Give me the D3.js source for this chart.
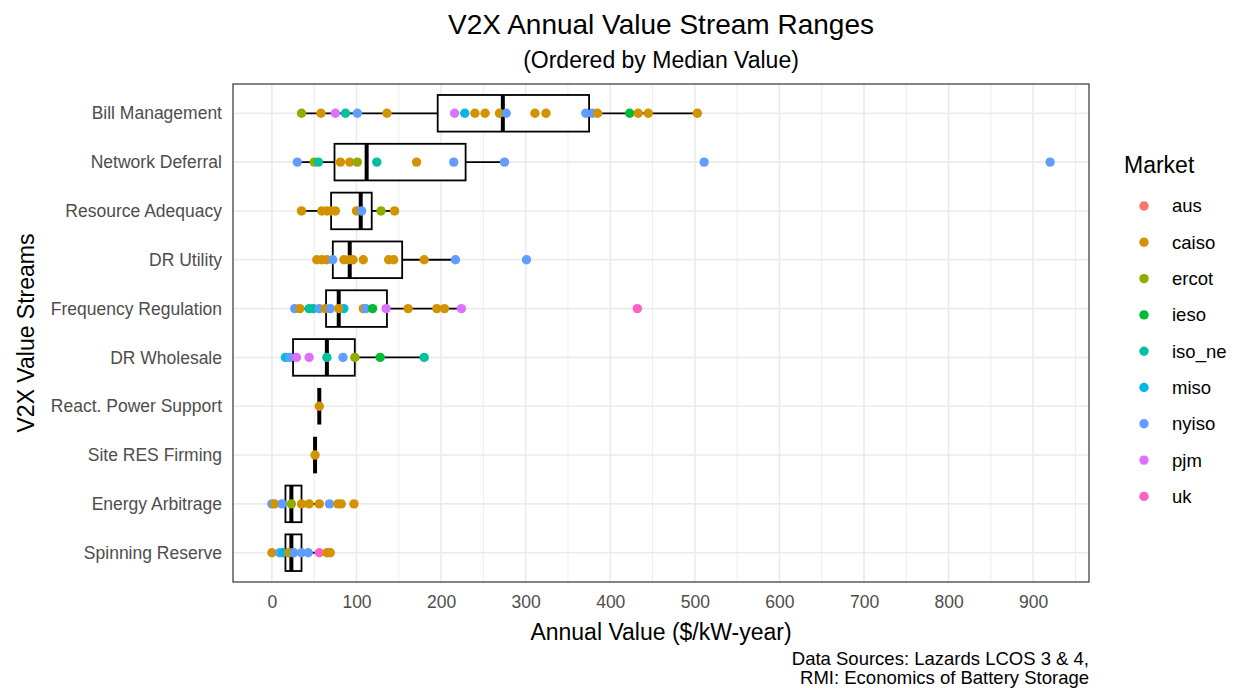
<!DOCTYPE html>
<html>
<head>
<meta charset="utf-8">
<script src="https://cdn.jsdelivr.net/npm/d3@7"></script>
<style>
  html, body { margin: 0; padding: 0; background: #ffffff; }
  svg { display: block; font-family: "Liberation Sans", Arial, Helvetica, sans-serif; }
</style>
</head>
<body>
<svg id="chart" width="1234" height="688"></svg>
<script>
// ---------- Data ----------
const streams = ["Bill Management", "Network Deferral", "Resource Adequacy", "DR Utility",
  "Frequency Regulation", "DR Wholesale", "React. Power Support", "Site RES Firming",
  "Energy Arbitrage", "Spinning Reserve"];

const markets = ["aus", "caiso", "ercot", "ieso", "iso_ne", "miso", "nyiso", "pjm", "uk"];
const marketColors = ["#F8766D", "#D39200", "#93AA00", "#00BA38", "#00C19F", "#00B9E3", "#619CFF", "#DB72FB", "#FF61C3"];

const xTicks = [0, 100, 200, 300, 400, 500, 600, 700, 800, 900];

// points per stream: [market, value]
const billManagement = [["ercot", 35], ["caiso", 58], ["pjm", 75], ["iso_ne", 87], ["nyiso", 101], ["caiso", 136],
  ["pjm", 216], ["miso", 228], ["caiso", 240], ["caiso", 252], ["caiso", 269], ["nyiso", 277], ["caiso", 311],
  ["caiso", 324], ["nyiso", 371], ["nyiso", 379], ["caiso", 385], ["ieso", 423], ["caiso", 433], ["caiso", 445], ["caiso", 503]];
const networkDeferral = [["nyiso", 30], ["ercot", 50], ["iso_ne", 55], ["caiso", 81], ["caiso", 92], ["ercot", 101],
  ["iso_ne", 124], ["caiso", 171], ["nyiso", 215], ["nyiso", 275], ["nyiso", 511], ["nyiso", 920]];
const resourceAdequacy = [["caiso", 35], ["caiso", 59], ["caiso", 65], ["caiso", 70], ["caiso", 75], ["caiso", 100],
  ["nyiso", 106], ["ercot", 129], ["caiso", 145]];
const drUtility = [["caiso", 53], ["caiso", 59], ["caiso", 65], ["caiso", 85], ["caiso", 91], ["caiso", 96], ["nyiso", 72],
  ["caiso", 108], ["caiso", 138], ["caiso", 144], ["caiso", 180], ["nyiso", 217], ["nyiso", 301]];
const frequencyRegulation = [["nyiso", 27], ["caiso", 33], ["iso_ne", 44], ["iso_ne", 49], ["nyiso", 56], ["caiso", 63],
  ["nyiso", 69], ["miso", 85], ["caiso", 79], ["caiso", 108], ["nyiso", 111], ["ieso", 119], ["pjm", 135], ["caiso", 161],
  ["caiso", 195], ["caiso", 204], ["pjm", 224], ["uk", 432]];
const drWholesale = [["miso", 16], ["nyiso", 21], ["pjm", 29], ["pjm", 44], ["iso_ne", 65], ["nyiso", 84], ["ercot", 98],
  ["ieso", 128], ["iso_ne", 180]];
const reactPowerSupport = [["caiso", 56]];
const siteResFirming = [["caiso", 51]];
const energyArbitrage = [["nyiso", 0], ["caiso", 3], ["nyiso", 12], ["ercot", 23], ["caiso", 35], ["caiso", 44],
  ["caiso", 56], ["nyiso", 68], ["caiso", 78], ["caiso", 82], ["caiso", 97]];
const spinningReserve = [["caiso", 0], ["nyiso", 9], ["miso", 13], ["caiso", 20], ["ercot", 25], ["nyiso", 26],
  ["nyiso", 35], ["nyiso", 43], ["uk", 56], ["caiso", 65], ["caiso", 69]];

// box statistics per stream (same order as streams)
const boxLow    = [35, 30, 35, 53, 27, 16, 56, 51, 0, 0];
const boxQ1     = [196, 74, 70, 72, 64, 25, 56, 51, 16, 16];
const boxMedian = [273, 112, 105, 92, 79, 65, 56, 51, 23, 23];
const boxQ3     = [375, 229, 118, 154, 136, 98, 56, 51, 35, 35];
const boxHigh   = [503, 275, 145, 217, 224, 180, 56, 51, 56, 56];

const streamPoints = [billManagement, networkDeferral, resourceAdequacy, drUtility, frequencyRegulation,
  drWholesale, reactPowerSupport, siteResFirming, energyArbitrage, spinningReserve];

// ---------- Layout ----------
const svg = d3.select("#chart");
const panel = { left: 233, right: 1089, top: 84, bottom: 582 };
const FONT = "'Liberation Sans', Arial, sans-serif";

const points = [];
streamPoints.forEach((arr, i) => arr.forEach(([m, v]) => points.push({ stream: streams[i], market: m, value: v })));

const vmin = d3.min(points, d => d.value), vmax = d3.max(points, d => d.value);
const pad = (vmax - vmin) * 0.05;
const x = d3.scaleLinear().domain([vmin - pad, vmax + pad]).range([panel.left, panel.right]);
const y = d3.scalePoint().domain(streams).range([panel.top, panel.bottom]).padding(0.6);
const color = d3.scaleOrdinal().domain(markets).range(marketColors);

// grid
const grid = svg.append("g");
const minorTicks = d3.range(-50, 1000, 100).filter(v => v > x.domain()[0] && v < x.domain()[1]);
grid.selectAll("line.minor").data(minorTicks).join("line")
  .attr("x1", d => x(d)).attr("x2", d => x(d))
  .attr("y1", panel.top).attr("y2", panel.bottom)
  .attr("stroke", "#EBEBEB").attr("stroke-width", 0.9);
grid.selectAll("line.majorx").data(xTicks).join("line")
  .attr("x1", d => x(d)).attr("x2", d => x(d))
  .attr("y1", panel.top).attr("y2", panel.bottom)
  .attr("stroke", "#EBEBEB").attr("stroke-width", 1.6);
grid.selectAll("line.majory").data(streams).join("line")
  .attr("x1", panel.left).attr("x2", panel.right)
  .attr("y1", d => y(d)).attr("y2", d => y(d))
  .attr("stroke", "#EBEBEB").attr("stroke-width", 1.6);

// boxplots
const boxH = y.step() * 0.75;
const boxes = svg.append("g");
streams.forEach((s, i) => {
  const cy = y(s);
  const g = boxes.append("g");
  g.append("line").attr("x1", x(boxLow[i])).attr("x2", x(boxQ1[i])).attr("y1", cy).attr("y2", cy)
    .attr("stroke", "#000").attr("stroke-width", 1.8);
  g.append("line").attr("x1", x(boxQ3[i])).attr("x2", x(boxHigh[i])).attr("y1", cy).attr("y2", cy)
    .attr("stroke", "#000").attr("stroke-width", 1.8);
  g.append("rect").attr("x", x(boxQ1[i])).attr("width", x(boxQ3[i]) - x(boxQ1[i]))
    .attr("y", cy - boxH / 2).attr("height", boxH)
    .attr("fill", "#fff").attr("stroke", "#000").attr("stroke-width", 1.8);
  g.append("line").attr("x1", x(boxMedian[i])).attr("x2", x(boxMedian[i]))
    .attr("y1", cy - boxH / 2).attr("y2", cy + boxH / 2)
    .attr("stroke", "#000").attr("stroke-width", 4);
});

// points
svg.append("g").selectAll("circle").data(points).join("circle")
  .attr("cx", d => x(d.value)).attr("cy", d => y(d.stream)).attr("r", 4.7)
  .attr("fill", d => color(d.market));

// panel border
svg.append("rect").attr("x", panel.left).attr("y", panel.top)
  .attr("width", panel.right - panel.left).attr("height", panel.bottom - panel.top)
  .attr("fill", "none").attr("stroke", "#333333").attr("stroke-width", 1.2);

// axes
const xAxis = svg.append("g").attr("transform", `translate(0,${panel.bottom})`)
  .call(d3.axisBottom(x).tickValues(xTicks).tickSize(0).tickPadding(14));
xAxis.select(".domain").remove();
xAxis.selectAll("text").attr("fill", "#4D4D4D").style("font-size", "17.5px").style("font-family", FONT);

const yAxis = svg.append("g").attr("transform", `translate(${panel.left},0)`)
  .call(d3.axisLeft(y).tickSize(0).tickPadding(11));
yAxis.select(".domain").remove();
yAxis.selectAll("text").attr("fill", "#4D4D4D").style("font-size", "17.5px").style("font-family", FONT);

// titles
const cx = (panel.left + panel.right) / 2;
svg.append("text").attr("x", cx).attr("y", 34).attr("text-anchor", "middle")
  .style("font-size", "28px").attr("fill", "#000").text("V2X Annual Value Stream Ranges");
svg.append("text").attr("x", cx).attr("y", 68).attr("text-anchor", "middle")
  .style("font-size", "23px").attr("fill", "#000").text("(Ordered by Median Value)");
svg.append("text").attr("x", cx).attr("y", 640).attr("text-anchor", "middle")
  .style("font-size", "23px").attr("fill", "#000").text("Annual Value ($/kW-year)");
svg.append("text").attr("transform", `translate(34,${(panel.top + panel.bottom) / 2}) rotate(-90)`)
  .attr("text-anchor", "middle").style("font-size", "23px").attr("fill", "#000").text("V2X Value Streams");

// caption
svg.append("text").attr("x", panel.right).attr("y", 665).attr("text-anchor", "end")
  .style("font-size", "18.5px").attr("fill", "#000").text("Data Sources: Lazards LCOS 3 & 4,");
svg.append("text").attr("x", panel.right).attr("y", 684).attr("text-anchor", "end")
  .style("font-size", "18.5px").attr("fill", "#000").text("RMI: Economics of Battery Storage");

// legend
const legend = svg.append("g");
legend.append("text").attr("x", 1124).attr("y", 173).style("font-size", "23px").attr("fill", "#000").text("Market");
const items = legend.selectAll("g.item").data(markets).join("g")
  .attr("transform", (d, i) => `translate(0,${206 + i * 36.3})`);
items.append("circle").attr("cx", 1144).attr("cy", 0).attr("r", 4.7).attr("fill", d => color(d));
items.append("text").attr("x", 1172).attr("y", 0).attr("dy", "0.35em")
  .style("font-size", "18.5px").attr("fill", "#000").text(d => d);
</script>
</body>
</html>
